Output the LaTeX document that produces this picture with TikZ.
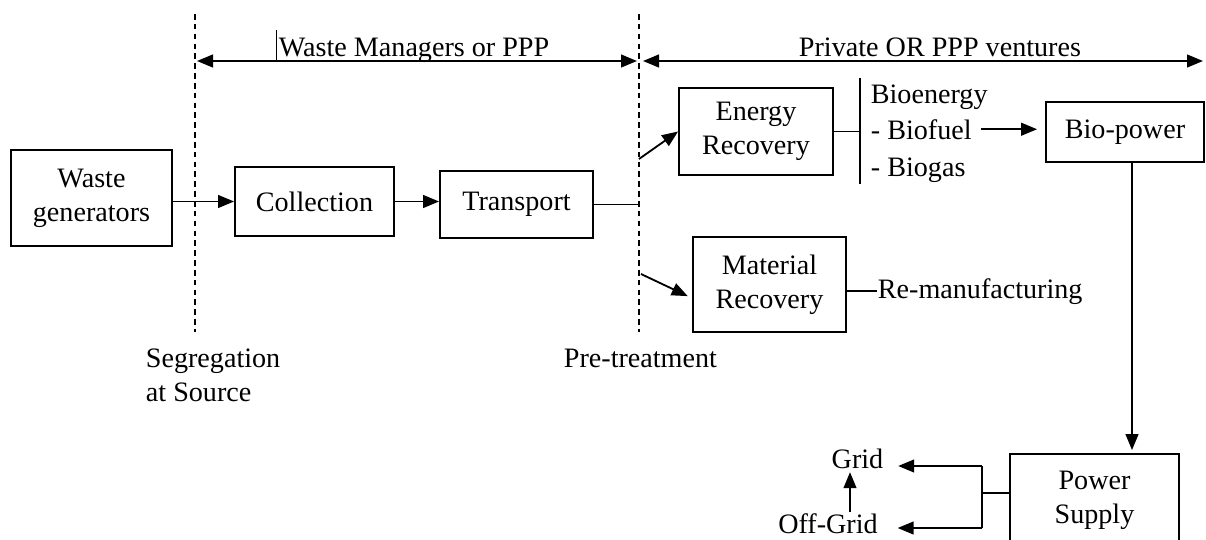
\documentclass[tikz,border=0pt]{standalone}
\usepackage{fontspec}
\setmainfont{Liberation Serif}
\usetikzlibrary{arrows.meta}

\begin{document}
\begin{tikzpicture}[
  x=0.025cm,
  y=-0.025cm,
  line width=1.3pt,
  font=\fontsize{20}{24}\selectfont,
  stage/.style={
    draw,
    align=center,
    inner sep=0pt
  },
  flow/.style={
    -{Triangle[length=4mm,width=3.2mm]}
  },
  span/.style={
    {Triangle[length=4mm,width=3.2mm]}-{Triangle[length=4mm,width=3.2mm]}
  },
  border/.style={
    line width=1.1pt,
    dash pattern=on 4pt off 3pt
  },
  tag/.style={
    inner sep=0pt
  }
]
  \useasboundingbox (0,0) rectangle (1206,540);

  % boundaries
  \coordinate (segtop) at (195,14);
  \coordinate (segbot) at (195,332);
  \coordinate (pretop) at (639,14);
  \coordinate (prebot) at (639,332);
  \draw[border] (segtop) -- (segbot);
  \draw[border] (pretop) -- (prebot);
  \node[tag,anchor=north west,align=left] (segtext) at (145,348) {Segregation\\at Source};
  \node[tag,anchor=base west] (pretext) at (563,367) {Pre-treatment};

  % who runs which part
  \coordinate (mgrL) at (197,61);
  \coordinate (mgrR) at (637,61);
  \coordinate (pvtL) at (643,61);
  \coordinate (pvtR) at (1203,61);
  \draw[span] (mgrL) -- (mgrR);
  \draw[span] (pvtL) -- (pvtR);
  \node[tag,anchor=base west] (mgrtext) at (278,56) {Waste Managers or PPP};
  \coordinate (tick) at (276,30);
  \draw[line width=0.7pt] (tick) -- (tick |- mgrL);
  \node[tag,anchor=base] (pvttext) at (940,56) {Private OR PPP ventures};

  % chain
  \node[stage,minimum width=4.025cm,minimum height=2.4cm] (waste) at (91.5,198) {Waste\\generators};
  \node[stage,minimum width=3.975cm,minimum height=1.725cm] (collection) at (314.5,201.5) {Collection};
  \node[stage,minimum width=3.825cm,minimum height=1.675cm] (transport) at (516.5,204.5) {Transport};
  \draw[flow] (waste.east |- collection.west) -- (collection.west);
  \draw[flow] (collection.east) -- (collection.east -| transport.west);
  \draw (transport.east) -- (transport.east -| pretop);

  % recovery
  \node[stage,minimum width=3.85cm,minimum height=2.175cm] (energy) at (756,131.5) {Energy\\Recovery};
  \node[stage,minimum width=3.825cm,minimum height=2.375cm] (material) at (769.5,284.5) {Material\\Recovery};
  \coordinate (toE) at (639,159);
  \coordinate (toM) at (641,274);
  \draw[flow] (toE) -- (energy.west);
  \draw[flow,shorten >=1.2mm] (toM) -- (material.190);

  \coordinate (bartop) at (860,78);
  \coordinate (barbot) at (860,184);
  \draw (bartop) -- (barbot);
  \draw (energy.east) -- (energy.east -| bartop);
  \node[tag,anchor=base west] (bioen) at (870,103) {Bioenergy};
  \node[tag,anchor=base west] (biofuel) at (870,139) {- Biofuel};
  \node[tag,anchor=base west] (biogas) at (870,176) {- Biogas};
  \node[tag,anchor=base west] (remanu) at (877,298) {Re-manufacturing};
  \draw (remanu.west) -- (remanu.west -| material.east);

  % power
  \node[stage,minimum width=3.95cm,minimum height=1.5cm] (biopower) at (1125,132) {Bio-power};
  \node[stage,minimum width=4.225cm,minimum height=2.3cm] (psupply) at (1094.5,500) {Power\\Supply};
  \draw[flow,shorten <=2.2mm,shorten >=2mm] (biofuel.east) -- (biofuel.east -| biopower.west);
  \coordinate (bpout) at ([xshift=0.175cm]biopower.south);
  \draw[flow,shorten >=0.75mm] (bpout) -- (bpout |- psupply.north);

  \node[tag,anchor=base] (grid) at (857.5,468) {Grid};
  \node[tag,anchor=base] (offgrid) at (828,533) {Off-Grid};
  \coordinate (fork) at (982,493);
  \coordinate (forktop) at (982,466);
  \coordinate (forkbot) at (982,528);
  \draw (fork -| psupply.west) -- (fork);
  \draw (forktop) -- (forkbot);
  \draw[flow,shorten >=3.5mm] (forktop) -- (forktop -| grid.east);
  \draw[flow,shorten >=4.75mm] (forkbot) -- (forkbot -| offgrid.east);
  \coordinate (upx) at (850,500);
  \draw[flow,shorten >=0.75mm] (upx |- offgrid.north) -- (upx |- grid.south);
\end{tikzpicture}
\end{document}
